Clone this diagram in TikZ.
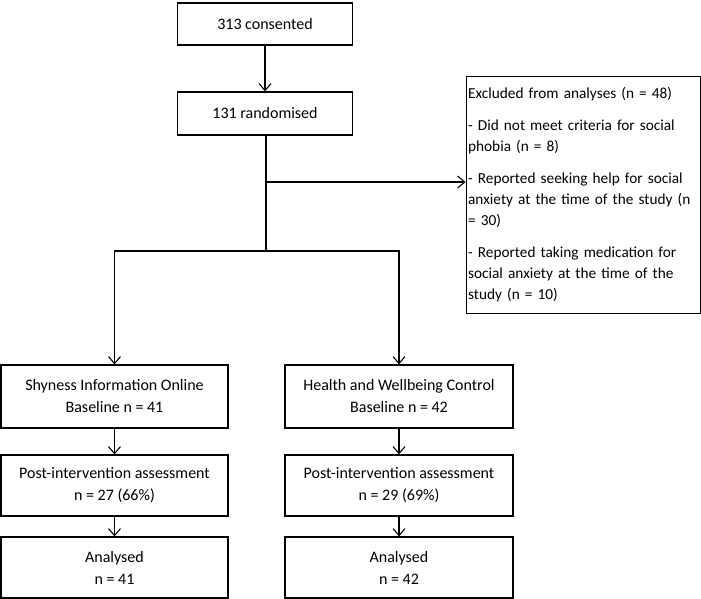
\documentclass[tikz,border=0pt]{standalone}
\usepackage{fontspec}
\setmainfont{Carlito}
\usepackage{tikz}
\usetikzlibrary{positioning}
\usetikzlibrary{arrows.meta}

\begin{document}
\begin{tikzpicture}[x=1pt,y=-1pt,
  box/.style={draw,line width=1.2pt,align=center,inner sep=2pt,font=\fontsize{16}{22}\selectfont},
  arr/.style={line width=1.1pt,-{Straight Barb[length=7pt,width=12pt,line width=1.1pt]}}]
  \useasboundingbox (0,0) rectangle (701,599);

  \node[box,minimum width=175,minimum height=42] (cons) at (265,24) {313 consented};
  \node[box,minimum width=175,minimum height=43] (rand) at (265,113.5) {131 randomised};
  \node[box,anchor=north west,minimum width=234,minimum height=237,align=left,
        text width=230,font=\fontsize{15.3}{21}\selectfont] (excl) at (465.5,76)
    {Excluded from analyses (n = 48)\\[11pt]
     - Did not meet criteria for social\\ phobia (n = 8)\\[11pt]
     - Reported seeking help for social\\ anxiety at the time of the study (n\\ = 30)\\[11pt]
     - Reported taking medication for\\ social anxiety at the time of the\\ study (n = 10)};

  % two arms
  \node[box,minimum width=227,minimum height=63] (shy) at (114.5,396.5) {Shyness Information Online\\ Baseline n = 41};
  \node[box,minimum width=228,minimum height=63] (hwc) at (399,396.5) {Health and Wellbeing Control\\ Baseline n = 42};
  \node[box,minimum width=227,minimum height=61] (post1) at (114.5,485.5) {Post-intervention assessment\\ n = 27 (66\%)};
  \node[box,minimum width=228,minimum height=61] (post2) at (399,485.5) {Post-intervention assessment\\ n = 29 (69\%)};
  \node[box,minimum width=227,minimum height=61] (ana1) at (114.5,567.5) {Analysed\\ n = 41};
  \node[box,minimum width=228,minimum height=61] (ana2) at (399,567.5) {Analysed\\ n = 42};

  \coordinate (fork) at (266,182);
  \coordinate (split) at (266,251);

  \draw[arr] (cons) -- (rand);
  \draw[line width=1.1pt] (rand.south -| split) -- (split);
  \draw[arr] (fork) -- (fork -| excl.west); % to exclusions
  \draw[arr] (split) -| (shy.north);
  \draw[arr] (split) -| (hwc.north);
  \draw[arr] (shy) -- (post1);
  \draw[arr] (post1) -- (ana1);
  \draw[arr] (hwc) -- (post2);
  \draw[arr] (post2) -- (ana2);
\end{tikzpicture}
\end{document}
